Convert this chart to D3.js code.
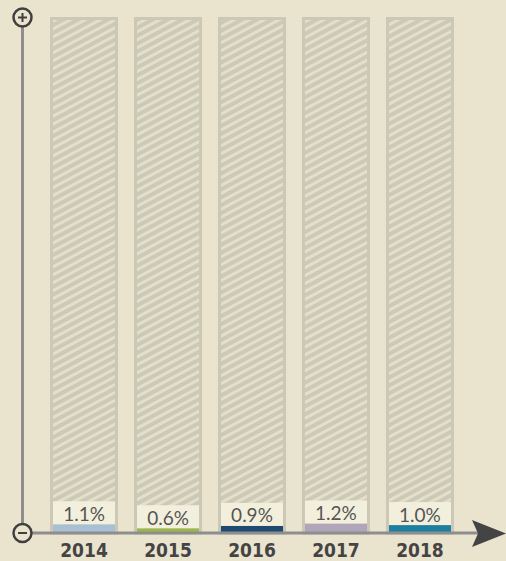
<!DOCTYPE html>
<html>
<head>
<meta charset="utf-8">
<script src="https://cdn.jsdelivr.net/npm/d3@7"></script>
<style>
  body { margin: 0; background: #eae4cf; }
  svg { display: block; }
</style>
</head>
<body>
<svg id="chart"></svg>
<script>
var width = 506,
    height = 561

// data
var years = ["2014", "2015", "2016", "2017", "2018"];
var values = [1.1, 0.6, 0.9, 1.2, 1.0];
var labels = ["1.1%", "0.6%", "0.9%", "1.2%", "1.0%"];
var colors = ["#a8bfd4", "#9bb64b", "#1e4a72", "#b1a6b9", "#1e80a1"];

var baseY = 533, topY = 17;

var svg = d3.select("svg#chart")
    .attr("width", width)
    .attr("height", height);

var x = d3.scaleBand()
    .domain(years)
    .range([50, 454])
    .paddingInner(0.19)
    .paddingOuter(0);

var y = d3.scaleLinear()
    .domain([0, 65])
    .range([baseY, topY]);

// hatch pattern for the empty bars
var defs = svg.append("defs");
var pat = defs.append("pattern")
    .attr("id", "hatch")
    .attr("patternUnits", "userSpaceOnUse")
    .attr("width", 8)
    .attr("height", 7)
    .attr("patternTransform", "rotate(-28)");
pat.append("rect")
    .attr("width", 8)
    .attr("height", 7)
    .attr("fill", "#ccc9b6");
pat.append("rect")
    .attr("y", 0)
    .attr("width", 8)
    .attr("height", 3)
    .attr("fill", "#e3dfcb");

var data = years.map(function(d, i) {
    return {year: d, value: values[i], label: labels[i], color: colors[i]};
});

var g = svg.selectAll("g.bar")
    .data(data)
    .enter()
    .append("g")
    .attr("class", "bar");

// background bar
g.append("rect")
    .attr("x", function(d) { return x(d.year) + 1.5; })
    .attr("y", topY + 1.5)
    .attr("width", x.bandwidth() - 3)
    .attr("height", baseY - topY - 1.5)
    .attr("fill", "url(#hatch)")
    .attr("stroke", "#cbc8b5")
    .attr("stroke-width", 3);

// value bar
g.append("rect")
    .attr("x", function(d) { return x(d.year) + 3; })
    .attr("y", function(d) { return y(d.value); })
    .attr("width", x.bandwidth() - 6)
    .attr("height", function(d) { return baseY - y(d.value); })
    .attr("fill", function(d) { return d.color; });

// label box
g.append("rect")
    .attr("x", function(d) { return x(d.year) + 3; })
    .attr("y", function(d) { return y(d.value) - 23; })
    .attr("width", x.bandwidth() - 6)
    .attr("height", 23)
    .attr("fill", "#f2f0dd");

g.append("text")
    .attr("x", function(d) { return x(d.year) + x.bandwidth() / 2; })
    .attr("y", function(d) { return y(d.value) - 3.5; })
    .attr("text-anchor", "middle")
    .attr("font-family", "Lato, sans-serif")
    .attr("font-size", 19)
    .attr("fill", "#555")
    .text(function(d) { return d.label; });

// year labels
g.append("text")
    .attr("x", function(d) { return x(d.year) + x.bandwidth() / 2; })
    .attr("y", 557)
    .attr("text-anchor", "middle")
    .attr("font-family", "'Liberation Sans Narrow', 'DejaVu Sans Condensed', sans-serif")
    .attr("font-weight", "bold")
    .attr("font-size", 19)
    .attr("fill", "#444")
    .text(function(d) { return d.year; });

// axes
svg.append("line")
    .attr("x1", 22.5).attr("y1", 26)
    .attr("x2", 22.5).attr("y2", baseY)
    .attr("stroke", "#8e8e8e")
    .attr("stroke-width", 3);

svg.append("line")
    .attr("x1", 22.5).attr("y1", baseY)
    .attr("x2", 478).attr("y2", baseY)
    .attr("stroke", "#8e8e8e")
    .attr("stroke-width", 3);

var p = d3.path();
p.moveTo(472, 520);
p.lineTo(506, 533.5);
p.lineTo(472, 547);
p.lineTo(478, 533.5);
p.closePath();
svg.append("path")
    .attr("d", p.toString())
    .attr("fill", "#444");

// plus / minus markers
var ends = [{cy: 17.5, plus: true}, {cy: 533, plus: false}];
var m = svg.selectAll("g.end")
    .data(ends)
    .enter()
    .append("g")
    .attr("class", "end")
    .attr("transform", function(d) { return "translate(22.5," + d.cy + ")"; });

m.append("circle")
    .attr("r", 9)
    .attr("fill", "#eae4cf")
    .attr("stroke", "#3f3f3f")
    .attr("stroke-width", 2.5);

m.append("line")
    .attr("x1", -4.5).attr("x2", 4.5)
    .attr("y1", 0).attr("y2", 0)
    .attr("stroke", "#3f3f3f")
    .attr("stroke-width", 2);

m.filter(function(d) { return d.plus; })
    .append("line")
    .attr("x1", 0).attr("x2", 0)
    .attr("y1", -4.5).attr("y2", 4.5)
    .attr("stroke", "#3f3f3f")
    .attr("stroke-width", 2);
</script>
</body>
</html>
